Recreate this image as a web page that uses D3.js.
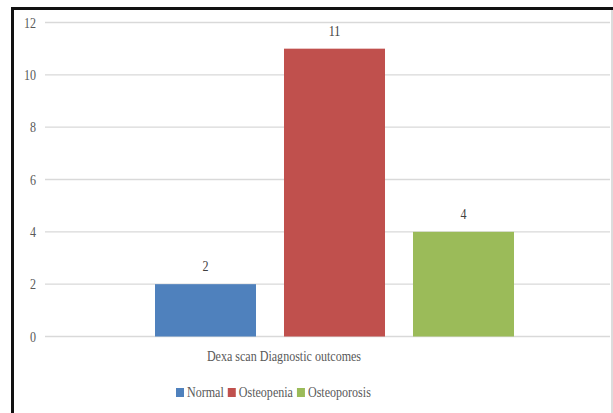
<!DOCTYPE html>
<html><head><meta charset="utf-8">
<script src="https://cdn.jsdelivr.net/npm/d3@7"></script>
<style>body{margin:0;background:#fff;} svg{display:block;}</style>
</head><body>
<svg id="c" width="613" height="413"></svg>
<script>
const categories = ["Normal", "Osteopenia", "Osteoporosis"];
const values = [2, 11, 4];
const colors = ["#4F81BD", "#C0504D", "#9BBB59"];
const yTicks = [0, 2, 4, 6, 8, 10, 12];
const axisTitle = "Dexa scan Diagnostic outcomes";

const svg = d3.select("#c");
const font = "'Liberation Serif', serif";
const squeeze = 0.86;
function condense(sel) {
  sel.each(function () {
    const L = this.getComputedTextLength();
    this.__w = L * squeeze;
    d3.select(this).attr("textLength", L * squeeze).attr("lengthAdjust", "spacingAndGlyphs");
  });
}

// frame
svg.append("rect").attr("x", 12.5).attr("y", 8.5).attr("width", 640).attr("height", 420)
  .attr("fill", "none").attr("stroke", "#111").attr("stroke-width", 3);
svg.append("line").attr("x1", 612).attr("x2", 612).attr("y1", 10).attr("y2", 413)
  .attr("stroke", "#d0d0d0").attr("stroke-width", 1.5);

const y = d3.scaleLinear().domain([0, 12]).range([336.5, 22.5]);
const x = d3.scaleBand().domain(categories).range([155, 514]).paddingInner(0.217).paddingOuter(0);

// gridlines
svg.append("g").selectAll("line").data(yTicks).join("line")
  .attr("x1", 45).attr("x2", 610)
  .attr("y1", d => y(d)).attr("y2", d => y(d))
  .attr("stroke", "#d9d9d9").attr("stroke-width", 1.3);

const yAxis = d3.axisLeft(y).tickValues(yTicks).tickSize(0).tickPadding(0);
const ga = svg.append("g").attr("transform", "translate(36,0)").call(yAxis);
ga.select(".domain").remove();
ga.selectAll("text").attr("font-family", font).attr("font-size", 14).attr("fill", "#595959")
  .attr("dy", "0.34em").call(condense);

// bars
svg.append("g").selectAll("rect").data(values).join("rect")
  .attr("x", (d, i) => x(categories[i]))
  .attr("width", x.bandwidth())
  .attr("y", d => y(d))
  .attr("height", d => y(0) - y(d))
  .attr("fill", (d, i) => colors[i]);

// value labels
svg.append("g").selectAll("text").data(values).join("text")
  .attr("x", (d, i) => x(categories[i]) + x.bandwidth() / 2)
  .attr("y", d => y(d) - 13)
  .attr("text-anchor", "middle")
  .attr("font-family", font).attr("font-size", 14).attr("fill", "#404040")
  .text(d => d).call(condense);

// axis title
svg.append("text").attr("x", 284).attr("y", 361).attr("text-anchor", "middle")
  .attr("font-family", font).attr("font-size", 14).attr("fill", "#595959")
  .text(axisTitle).call(condense);

// legend
const leg = svg.append("g").attr("font-family", font).attr("font-size", 14).attr("fill", "#595959");
let lx = 176;
categories.forEach((c, i) => {
  leg.append("rect").attr("x", lx).attr("y", 388).attr("width", 8).attr("height", 9).attr("fill", colors[i]);
  const t = leg.append("text").attr("x", lx + 11).attr("y", 397).text(c).call(condense);
  lx += 11 + t.node().__w + 4;
});
</script>
</body></html>
